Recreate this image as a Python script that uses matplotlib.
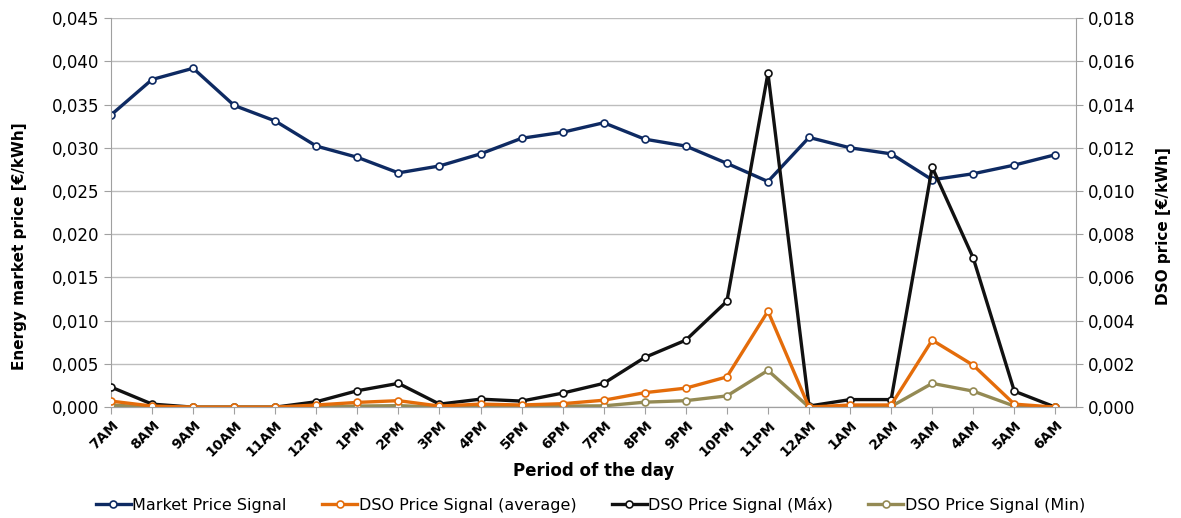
import numpy as np
import matplotlib.pyplot as plt
from matplotlib.ticker import FuncFormatter, MultipleLocator

hours = ["7AM", "8AM", "9AM", "10AM", "11AM", "12PM", "1PM", "2PM", "3PM", "4PM",
         "5PM", "6PM", "7PM", "8PM", "9PM", "10PM", "11PM", "12AM", "1AM", "2AM",
         "3AM", "4AM", "5AM", "6AM"]

market = [0.0338, 0.0379, 0.0392, 0.0349, 0.0331, 0.0302, 0.0289, 0.0271, 0.0279, 0.0293,
          0.0311, 0.0318, 0.0329, 0.0310, 0.0302, 0.0282, 0.0261, 0.0312, 0.0300, 0.0293,
          0.0263, 0.0270, 0.0280, 0.0292]
dso_avg = [0.00028, 0.00005, 0.0, 0.0, 0.0, 0.00010, 0.00022, 0.00030, 0.00005, 0.00014,
           0.00010, 0.00016, 0.00032, 0.00067, 0.00088, 0.0014, 0.00444, 0.0, 0.00010, 0.00010,
           0.0031, 0.00194, 0.00014, 0.0]
dso_max = [0.00093, 0.00014, 0.0, 0.0, 0.0, 0.00025, 0.00076, 0.0011, 0.00014, 0.00037,
           0.00028, 0.00065, 0.0011, 0.0023, 0.0031, 0.0049, 0.01545, 0.00005, 0.00035, 0.00035,
           0.0111, 0.0069, 0.00074, 0.0]
dso_min = [0.0001, 0.0, 0.0, 0.0, 0.0, 0.0, 0.00005, 0.00007, 0.0, 0.00005,
           0.00005, 0.00005, 0.00006, 0.00023, 0.00030, 0.00052, 0.0017, 0.0, 0.00003, 0.00003,
           0.0011, 0.00074, 0.00005, 0.0]

plt.rcParams['font.family'] = ['DejaVu Sans']

fig = plt.figure(figsize=(11.81, 5.18), dpi=100)
ax1 = fig.add_axes([0.094, 0.214, 0.817, 0.751])
ax2 = ax1.twinx()

x = np.arange(len(hours))
mk = dict(marker='o', markersize=5, markerfacecolor='white', markeredgewidth=1.2)

l1, = ax1.plot(x, market, color='#0e2a62', lw=2.4, markeredgecolor='#0e2a62', label='Market Price Signal', **mk)
l3, = ax2.plot(x, dso_max, color='#111111', lw=2.4, markeredgecolor='#111111', label='DSO Price Signal (Máx)', **mk)
l4, = ax2.plot(x, dso_min, color='#948a54', lw=2.4, markeredgecolor='#948a54', label='DSO Price Signal (Min)', **mk)
l2, = ax2.plot(x, dso_avg, color='#e46c0a', lw=2.4, markeredgecolor='#e46c0a', label='DSO Price Signal (average)', **mk)

fmt = FuncFormatter(lambda v, p: f"{v:.3f}".replace('.', ','))
ax1.set_ylim(0, 0.045)
ax1.yaxis.set_major_locator(MultipleLocator(0.005))
ax1.yaxis.set_major_formatter(fmt)
ax2.set_ylim(0, 0.018)
ax2.yaxis.set_major_locator(MultipleLocator(0.002))
ax2.yaxis.set_major_formatter(fmt)

ax1.set_xlim(0, len(hours) - 0.5)
ax1.set_xticks(x)
ax1.set_xticklabels(hours, rotation=45, ha='right', rotation_mode='anchor', fontweight='bold', fontsize=10)
ax1.grid(axis='y', color='#bdbdbd', lw=1)
ax1.set_axisbelow(True)

for ax in (ax1, ax2):
    for s in ax.spines.values():
        s.set_color('#a0a0a0')
    ax.spines['top'].set_visible(False)
    ax.tick_params(axis='y', labelsize=12, length=5, color='#a0a0a0')
ax1.spines['right'].set_visible(False)
ax2.spines['left'].set_visible(False)
ax1.tick_params(axis='x', length=5, color='#a0a0a0', pad=3)

ax1.set_ylabel('Energy market price [€/kWh]', fontweight='bold', fontsize=11)
ax1.yaxis.set_label_coords(-0.087, 0.414)
ax2.set_ylabel('DSO price [€/kWh]', fontweight='bold', fontsize=11, rotation=90)
ax2.yaxis.set_label_coords(1.083, 0.465)
ax1.set_xlabel('Period of the day', fontweight='bold', fontsize=12, labelpad=2)

fig.legend(handles=[l1, l2, l3, l4], loc='lower center', ncol=4, frameon=False,
           bbox_to_anchor=(0.5, -0.018), fontsize=11.5, handlelength=2.2, handletextpad=0.1,
           columnspacing=2.2)

fig.savefig('out.png', dpi=100)
